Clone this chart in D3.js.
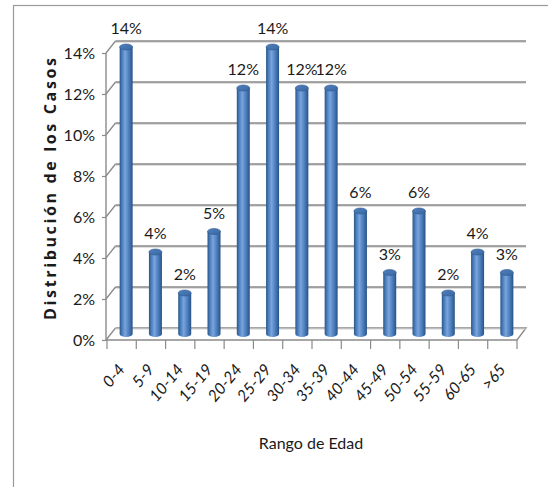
<!DOCTYPE html>
<html><head><meta charset="utf-8">
<script src="https://cdn.jsdelivr.net/npm/d3@7"></script>
<style>
body{margin:0;background:#fff;}
svg{display:block;}
</style></head><body>
<svg id="c" width="548" height="487"></svg>
<script>
const categories = ["0-4","5-9","10-14","15-19","20-24","25-29","30-34","35-39","40-44","45-49","50-54","55-59","60-65",">65"];
const values = [14,4,2,5,12,14,12,12,6,3,6,2,4,3];
const yTicks = [0,2,4,6,8,10,12,14];
const yTitle = "Distribución de los Casos";
const xTitle = "Rango de Edad";

const svg = d3.select("#c");
const lab = "Lato,'Open Sans',sans-serif";

// frame
svg.append("rect").attr("x",13.5).attr("y",5.5).attr("width",600).attr("height",600)
  .attr("fill","none").attr("stroke","#9a9a9a").attr("stroke-width",1.2);

const x0 = 107, x1 = 517, yB = 340, yT = 53;
const DX = 9, DY = -12;
const x = d3.scaleBand().domain(categories).range([x0,x1]).padding(0);
const y = d3.scaleLinear().domain([0,14]).range([yB,yT]);

const defs = svg.append("defs");
const g1 = defs.append("linearGradient").attr("id","cyl").attr("x1","0").attr("x2","1").attr("y1","0").attr("y2","0");
[[0,"#2a5587"],[0.18,"#4a7dbb"],[0.42,"#79a5dc"],[0.6,"#5d8ccb"],[0.85,"#3a6aa6"],[1,"#27507f"]]
  .forEach(s=>g1.append("stop").attr("offset",s[0]).attr("stop-color",s[1]));
const g2 = defs.append("linearGradient").attr("id","cap").attr("x1","0").attr("x2","1").attr("y1","0").attr("y2","1");
[[0,"#4f7fbd"],[1,"#3b68a3"]].forEach(s=>g2.append("stop").attr("offset",s[0]).attr("stop-color",s[1]));

// gridlines (back wall + side diagonals)
const grid = svg.append("g");
yTicks.forEach(t=>{
  const yf = y(t);
  if (t>0) {
    grid.append("line").attr("x1",x0+DX-0.5).attr("x2",x1+DX).attr("y1",yf+DY+1).attr("y2",yf+DY+1)
      .attr("stroke","#d4d4d4").attr("stroke-width",1.5);
    grid.append("line").attr("x1",x0+DX-0.5).attr("x2",x1+DX).attr("y1",yf+DY).attr("y2",yf+DY)
      .attr("stroke","#8a8a8a").attr("stroke-width",1.5);
  }
  grid.append("line").attr("x1",x0-1).attr("y1",yf).attr("x2",x0+DX-0.5).attr("y2",yf+DY)
    .attr("stroke","#8a8a8a").attr("stroke-width",1.3);
});
// floor
grid.append("path")
  .attr("d",`M${x0-1},${yB} L${x1},${yB} L${x1+DX},${yB+DY} L${x0+DX-0.5},${yB+DY}`)
  .attr("fill","none").attr("stroke","#8a8a8a").attr("stroke-width",1.4);
grid.append("line").attr("x1",x0+DX-0.5).attr("x2",x1+DX).attr("y1",yB+DY+1).attr("y2",yB+DY+1)
  .attr("stroke","#d4d4d4").attr("stroke-width",1.2);

// y axis
const ya = svg.append("g").attr("transform",`translate(${x0-1},0)`)
  .call(d3.axisLeft(y).tickValues(yTicks).tickSize(4).tickPadding(7).tickFormat(d=>d+"%"));
ya.select(".domain").attr("stroke","#8a8a8a").attr("stroke-width",1.4).attr("d",`M0,${yB}V${yT}`);
ya.selectAll(".tick line").attr("stroke","#8a8a8a").attr("stroke-width",1.2);
ya.selectAll(".tick text").attr("font-family",lab).attr("font-size",16).attr("fill","#1a1a1a").attr("dy","0.36em");

// x axis ticks
const xa = svg.append("g").attr("transform",`translate(0,${yB})`);
d3.range(categories.length+1).forEach(i=>{
  const xx = x0 + i*x.step();
  xa.append("line").attr("x1",xx).attr("x2",xx).attr("y1",0).attr("y2",9).attr("stroke","#8a8a8a").attr("stroke-width",1.2);
});
xa.selectAll("text.cat").data(categories).join("text").attr("class","cat")
  .attr("transform",d=>`translate(${x(d)+x.bandwidth()/2+4},${30}) rotate(-50)`)
  .attr("text-anchor","end").attr("font-family",lab).attr("font-style","italic")
  .attr("font-size",16).attr("fill","#1a1a1a").text(d=>d);

// bars (cylinders)
const bw = 13, ry = 3;
const bars = svg.append("g");
categories.forEach((c,i)=>{
  const cx = x(c)+x.bandwidth()/2 + DX/2;
  const base = y(0) + DY/2;
  const top = y(values[i]) + DY/2;
  const l = cx-bw/2, r = cx+bw/2;
  bars.append("path")
    .attr("d",`M${l},${top} L${l},${base} A${bw/2},${ry} 0 0 0 ${r},${base} L${r},${top} Z`)
    .attr("fill","url(#cyl)");
  bars.append("ellipse").attr("cx",cx).attr("cy",top).attr("rx",bw/2).attr("ry",ry)
    .attr("fill","url(#cap)").attr("stroke","#2e5a8f").attr("stroke-width",0.6);
  bars.append("text").attr("x",cx).attr("y",top-ry-10)
    .attr("text-anchor","middle").attr("font-family",lab).attr("font-size",16).attr("fill","#1a1a1a")
    .text(values[i]+"%");
});

// titles
svg.append("text").attr("transform","translate(56,189) rotate(-90)")
  .attr("text-anchor","middle").attr("font-family","'Open Sans',sans-serif").attr("font-weight",700)
  .attr("font-size",16).attr("fill","#1a1a1a").attr("textLength",262).attr("lengthAdjust","spacing").text(yTitle);
svg.append("text").attr("x",311).attr("y",449).attr("text-anchor","middle")
  .attr("font-family",lab).attr("font-size",16).attr("fill","#1a1a1a").text(xTitle);
</script>
</body></html>
